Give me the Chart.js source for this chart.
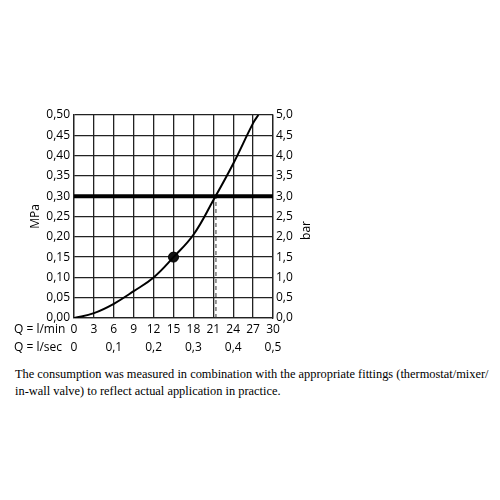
<!DOCTYPE html>
<html><head><meta charset="utf-8">
<script src="https://cdn.jsdelivr.net/npm/chart.js@4"></script>
<style>
body{margin:0;background:#fff;}
#wrap{position:absolute;left:0;top:0;width:500px;height:356px;}
#note{position:absolute;left:15px;top:366px;width:490px;font:12.4px "Liberation Serif",serif;line-height:17px;color:#000;white-space:nowrap;}
</style></head><body>
<div id="wrap"><canvas id="c"></canvas></div>
<div id="note">The consumption was measured in combination with the appropriate fittings (thermostat/mixer/<br>in-wall valve) to reflect actual application in practice.</div>
<script>
// dati della curva (l/min -> MPa)
const flowLmin = [0, 3, 6, 9, 12, 15, 18, 21, 24, 27, 27.8];
const pressMPa = [0, 0.012, 0.035, 0.066, 0.10, 0.15, 0.205, 0.29, 0.38, 0.48, 0.50];
const puntoFlow = 15, puntoPress = 0.15;
const rifPress = 0.30, rifFlow = 21.4;

const fmt = (v, d) => v.toFixed(d).replace(".", ",");
const font = {family: "'Open Sans', sans-serif", size: 12};

const etichette = {
  id: "etichette",
  afterDraw(chart) {
    const c = chart.ctx, a = chart.chartArea;
    const mid = (a.top + a.bottom) / 2;
    c.save();
    c.fillStyle = "#000";
    c.font = "12px 'Open Sans', sans-serif";
    c.textBaseline = "middle";
    c.fillText("Q = l/min", 14, chart.scales.x.top + 12);
    c.fillText("Q = l/sec", 14, chart.scales.x2.top + 8);
    c.textAlign = "center";
    c.save(); c.translate(36, mid); c.rotate(-Math.PI / 2); c.fillText("MPa", 0, 0); c.restore();
    c.save(); c.translate(307, mid + 14); c.rotate(-Math.PI / 2); c.fillText("bar", 0, 0); c.restore();
    c.restore();
  }
};

new Chart(document.getElementById("c"), {
  type: "scatter",
  data: {
    datasets: [
      {data: flowLmin.map((x, i) => ({x, y: pressMPa[i]})), showLine: true, borderColor: "#000", borderWidth: 2, pointRadius: 0, tension: 0.4},
      {data: [{x: 0, y: rifPress}, {x: 30, y: rifPress}], showLine: true, borderColor: "#000", borderWidth: 4, pointRadius: 0},
      {data: [{x: rifFlow, y: 0}, {x: rifFlow, y: rifPress}], showLine: true, borderColor: "#333", borderWidth: 1, borderDash: [4, 3], pointRadius: 0},
      {data: [{x: puntoFlow, y: puntoPress}], pointRadius: 5, backgroundColor: "#111", borderColor: "#000"}
    ]
  },
  options: {
    animation: false, responsive: true, maintainAspectRatio: false,
    layout: {padding: {top: 115, left: 0, right: 0, bottom: 0}},
    plugins: {legend: {display: false}, tooltip: {enabled: false}},
    scales: {
      x: {type: "linear", min: 0, max: 30, position: "bottom",
        afterBuildTicks: s => { s.ticks = []; for (let v = 0; v <= 30; v += 3) s.ticks.push({value: v}); },
        ticks: {color: "#000", font, padding: 4, maxRotation: 0, autoSkip: false},
        grid: {color: "#222", lineWidth: 1.3, drawTicks: false},
        border: {color: "#222", width: 1.3},
        afterFit: s => { s.height = 22; }},
      x2: {type: "linear", min: 0, max: 0.5, position: "bottom",
        afterBuildTicks: s => { s.ticks = []; for (let v = 0; v <= 5; v++) s.ticks.push({value: v / 10}); },
        ticks: {color: "#000", font, padding: 0, maxRotation: 0, autoSkip: false, callback: v => v === 0 ? "0" : fmt(v, 1)},
        grid: {display: false, drawTicks: false}, border: {display: false},
        afterFit: s => { s.height = 16; }},
      y: {min: 0, max: 0.5, position: "left",
        afterBuildTicks: s => { s.ticks = []; for (let v = 0; v <= 10; v++) s.ticks.push({value: v * 0.05}); },
        ticks: {color: "#000", font, padding: 4, callback: v => fmt(v, 2)},
        grid: {color: "#222", lineWidth: 1.3, drawTicks: false},
        border: {color: "#222", width: 1.3},
        afterFit: s => { s.width = 74; }},
      y2: {min: 0, max: 5, position: "right",
        afterBuildTicks: s => { s.ticks = []; for (let v = 0; v <= 10; v++) s.ticks.push({value: v * 0.5}); },
        ticks: {color: "#000", font, padding: 3, callback: v => fmt(v, 1)},
        grid: {display: false, drawTicks: false},
        border: {color: "#222", width: 1.3},
        afterFit: s => { s.width = 227; }}
    }
  },
  plugins: [etichette]
});
</script>
</body></html>
